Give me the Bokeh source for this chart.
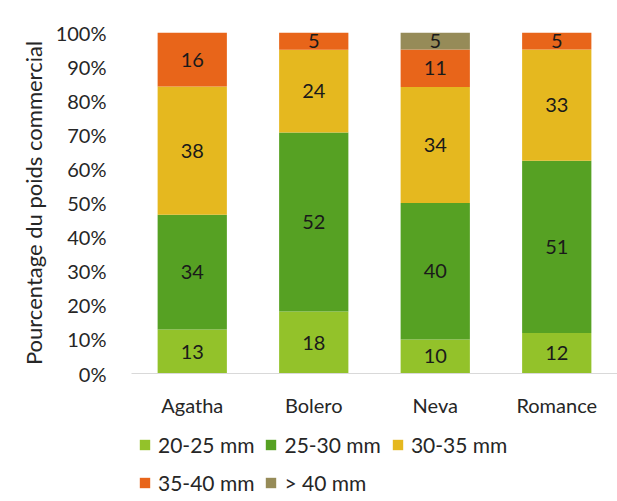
from bokeh.plotting import figure
from bokeh.layouts import column
from bokeh.models import ColumnDataSource, Legend, LegendItem, NumeralTickFormatter, FixedTicker, LabelSet, Range1d
from bokeh.embed import file_html
from bokeh.resources import INLINE
from bokeh.core.properties import value

varieties = ["Agatha", "Bolero", "Neva", "Romance"]
classes = ["20-25 mm", "25-30 mm", "30-35 mm", "35-40 mm", "> 40 mm"]
v_20_25 = [13, 18, 10, 12]
v_25_30 = [34, 52, 40, 51]
v_30_35 = [38, 24, 34, 33]
v_35_40 = [16, 5, 11, 5]
v_40 = [0, 0, 5, 0]
colors = ["#93C22A", "#56A123", "#E5B81F", "#E8651A", "#968B58"]
y_ticks = [0, 0.1, 0.2, 0.3, 0.4, 0.5, 0.6, 0.7, 0.8, 0.9, 1.0]

series = [v_20_25, v_25_30, v_30_35, v_35_40, v_40]
totals = [sum(s[i] for s in series) for i in range(len(varieties))]

FONT = "Lato"
FS = "20px"
TXT = "#262626"

W = 617
H_MAIN = 425
H_LEG = 76

p = figure(x_range=varieties, y_range=(0, 1), width=W, height=H_MAIN,
           output_backend="svg", toolbar_location=None,
           min_border_left=131, min_border_right=0, min_border_top=32, min_border_bottom=52)
p.outline_line_color = None
p.xgrid.grid_line_color = None
p.ygrid.grid_line_color = None
p.x_range.range_padding = 0

bottoms = [0.0] * len(varieties)
for cls, vals, col in zip(classes, series, colors):
    frac = [v / t for v, t in zip(vals, totals)]
    tops = [b + f for b, f in zip(bottoms, frac)]
    mids = [(b + t) / 2 for b, t in zip(bottoms, tops)]
    src = ColumnDataSource(dict(x=varieties, bottom=bottoms, top=tops, mid=mids,
                                lab=[str(v) if v > 0 else "" for v in vals]))
    p.vbar(x="x", bottom="bottom", top="top", width=0.57, source=src,
           fill_color=col, line_color=None)
    p.add_layout(LabelSet(x="x", y="mid", text="lab", source=src,
                          text_align="center", text_baseline="middle",
                          text_font=value(FONT), text_font_size=FS,
                          text_color="#1a1a1a"))
    bottoms = tops

p.yaxis.ticker = FixedTicker(ticks=y_ticks)
p.yaxis.formatter = NumeralTickFormatter(format="0%")
p.yaxis.axis_line_color = None
p.yaxis.major_tick_line_color = None
p.yaxis.minor_tick_line_color = None
p.yaxis.major_label_standoff = 19
p.yaxis.major_label_text_font = FONT
p.yaxis.major_label_text_font_size = FS
p.yaxis.major_label_text_color = TXT
p.yaxis.axis_label = "Pourcentage du poids commercial"
p.yaxis.axis_label_text_font = FONT
p.yaxis.axis_label_text_font_size = "22px"
p.yaxis.axis_label_text_font_style = "normal"
p.yaxis.axis_label_text_color = TXT
p.yaxis.axis_label_standoff = 6

p.xaxis.axis_line_color = "#D9D9D9"
p.xaxis.axis_line_width = 1
p.xaxis.major_tick_line_color = None
p.xaxis.minor_tick_line_color = None
p.xaxis.major_label_standoff = 13
p.xaxis.major_label_text_font = FONT
p.xaxis.major_label_text_font_size = FS
p.xaxis.major_label_text_color = TXT

# legend panel (proxy glyphs lie outside the visible range; only their styles show in the legend)
p2 = figure(width=W, height=H_LEG, output_backend="svg", toolbar_location=None,
            x_range=Range1d(0, 1), y_range=Range1d(0, 1),
            x_axis_location=None, y_axis_location=None,
            min_border=0)
p2.outline_line_color = None
p2.xgrid.grid_line_color = None
p2.ygrid.grid_line_color = None
items = []
for cls, col in zip(classes, colors):
    r = p2.vbar(x=[-5], bottom=[-5], top=[-4], width=0.1, fill_color=col, line_color=None)
    items.append(LegendItem(label=cls, renderers=[r]))

legend = Legend(items=items, orientation="horizontal", ncols=3,
                location=(7, 5), margin=0, padding=0,
                spacing=10, label_standoff=7, glyph_width=13, glyph_height=13,
                label_height=28, label_text_font=FONT, label_text_font_size="21px",
                label_text_color=TXT, border_line_color=None,
                background_fill_alpha=0)
p2.add_layout(legend, "center")

layout = column(p, p2, spacing=0)
open("out.html", "w").write(file_html(layout, INLINE))
